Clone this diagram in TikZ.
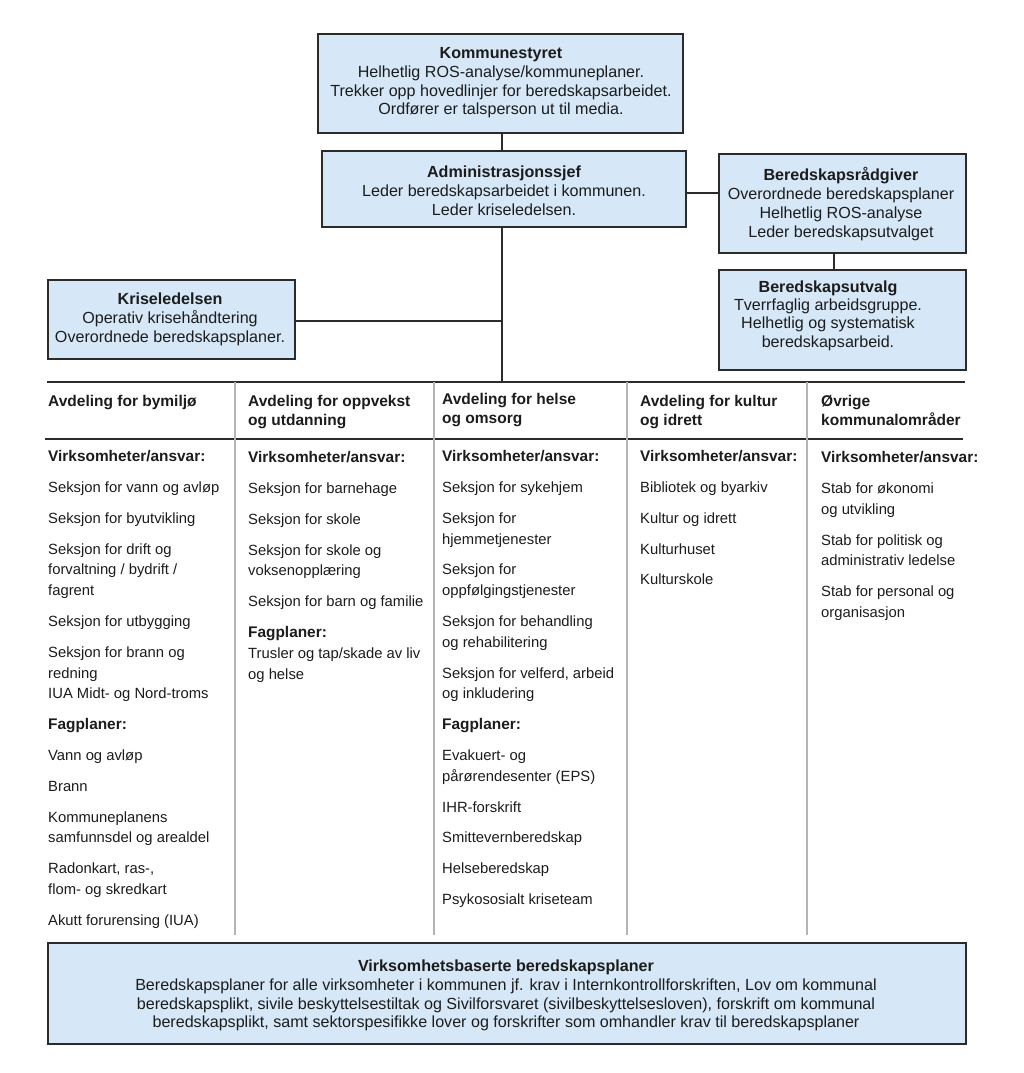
\documentclass[tikz,border=0pt]{standalone}
\usepackage{fontspec}
\setmainfont{Liberation Sans}
\definecolor{boxblue}{HTML}{D6E8F7}
\definecolor{linedark}{HTML}{2B2B2B}
\definecolor{sepgray}{HTML}{B4B4B4}
\definecolor{textdark}{HTML}{1C1C1C}
\begin{document}
\begin{tikzpicture}[x=1pt,y=-1pt,
  boxframe/.style={draw=linedark, line width=1.8pt, fill=boxblue, inner sep=0pt, rectangle},
  boxtext/.style={inner sep=0pt, align=center, text=textdark, font=\fontsize{16.1}{18.7}\selectfont},
  coltext/.style={inner sep=0pt, anchor=north west, align=left, text=textdark, font=\fontsize{14.8}{20.8}\selectfont},
  colhead/.style={font=\bfseries\fontsize{15.4}{20.8}\selectfont},
  headtext/.style={inner sep=0pt, anchor=north west, align=left, text=textdark, font=\bfseries\fontsize{15.5}{19}\selectfont},
  conn/.style={draw=linedark, line width=1.5pt},
  rulestyle/.style={draw=linedark, line width=1.8pt},
  sepstyle/.style={draw=sepgray, line width=1.3pt}
]
\useasboundingbox[fill=white] (0,0) rectangle (1024,1073);

% ---- boxes ----
\node[boxframe, minimum width=365pt, minimum height=99pt] (kom) at (500.5,83.5) {};
\node[boxtext] (komtxt) at (501,83) {\textbf{Kommunestyret}\\Helhetlig ROS-analyse/kommuneplaner.\\Trekker opp hovedlinjer for beredskapsarbeidet.\\Ordfører er talsperson ut til media.};

\node[boxframe, minimum width=364pt, minimum height=76pt] (adm) at (504,189) {};
\node[boxtext, font=\fontsize{16.1}{19}\selectfont] (admtxt) at (504,190.5) {\textbf{Administrasjonssjef}\\Leder beredskapsarbeidet i kommunen.\\Leder kriseledelsen.};

\node[boxframe, minimum width=247pt, minimum height=99pt] (rad) at (842.5,203.5) {};
\node[boxtext] (radtxt) at (841,204) {\textbf{Beredskapsrådgiver}\\Overordnede beredskapsplaner\\Helhetlig ROS-analyse\\Leder beredskapsutvalget};

\node[boxframe, minimum width=247pt, minimum height=100pt] (utv) at (842.5,320) {};
\node[boxtext, font=\fontsize{16.1}{18.3}\selectfont] (utvtxt) at (828,315.5) {\textbf{Beredskapsutvalg}\\Tverrfaglig arbeidsgruppe.\\Helhetlig og systematisk\\beredskapsarbeid.};

\node[boxframe, minimum width=247pt, minimum height=79pt] (kris) at (171.5,319.5) {};
\node[boxtext, font=\fontsize{16.1}{19}\selectfont] (kristxt) at (170,319.5) {\textbf{Kriseledelsen}\\Operativ krisehåndtering\\Overordnede beredskapsplaner.};

\node[boxframe, minimum width=918pt, minimum height=101pt] (bunn) at (507,993.5) {};
\node[boxtext] (bunntxt) at (506,995.5) {\textbf{Virksomhetsbaserte beredskapsplaner}\\Beredskapsplaner for alle virksomheter i kommunen jf. krav i Internkontrollforskriften, Lov om kommunal\\beredskapsplikt, sivile beskyttelsestiltak og Sivilforsvaret (sivilbeskyttelsesloven), forskrift om kommunal\\beredskapsplikt, samt sektorspesifikke lover og forskrifter som omhandler krav til beredskapsplaner};

% ---- helper coordinates ----
\coordinate (trunk) at (502,0);
\coordinate (radx) at (834,0);
\coordinate (hy) at (0,193);
\coordinate (ky) at (0,321);
\coordinate (tl) at (47,382);
\coordinate (tr) at (965,382);
\coordinate (hl) at (45,439);
\coordinate (hr) at (963,439);
\coordinate (sa1) at (235,382); \coordinate (sb1) at (235,935);
\coordinate (sa2) at (434,382); \coordinate (sb2) at (434,935);
\coordinate (sa3) at (627,382); \coordinate (sb3) at (627,935);
\coordinate (sa4) at (807,382); \coordinate (sb4) at (807,935);

% ---- connectors ----
\draw[conn] (kom.south -| trunk) -- (adm.north -| trunk);
\draw[conn] (adm.east |- hy) -- (rad.west |- hy);
\draw[conn] (rad.south -| radx) -- (utv.north -| radx);
\draw[conn] (adm.south -| trunk) -- (tl -| trunk);
\draw[conn] (kris.east |- ky) -- (trunk |- ky);

% ---- table rules ----
\draw[rulestyle] (tl) -- (tr);
\draw[rulestyle] (hl) -- (hr);
\draw[sepstyle] (sa1) -- (sb1);
\draw[sepstyle] (sa2) -- (sb2);
\draw[sepstyle] (sa3) -- (sb3);
\draw[sepstyle] (sa4) -- (sb4);

% ---- headers ----
\node[headtext] (h1) at (48,394.5) {\rule{0pt}{12pt}Avdeling for bymiljø};
\node[headtext] (h2) at (248,394.5) {\rule{0pt}{12pt}Avdeling for oppvekst\\og utdanning};
\node[headtext] (h3) at (442,392.5) {\rule{0pt}{12pt}Avdeling for helse\\og omsorg};
\node[headtext] (h4) at (640,394.5) {\rule{0pt}{12pt}Avdeling for kultur\\og idrett};
\node[headtext] (h5) at (821,394.5) {\rule{0pt}{12pt}Øvrige\\kommunalområder};

% ---- columns ----
\node[coltext] (c1) at (48,449.5) {\rule{0pt}{12pt}{\bfseries\fontsize{15.4}{20.8}\selectfont Virksomheter/ansvar:}\\[10pt]
Seksjon for vann og avløp\\[10pt]
Seksjon for byutvikling\\[10pt]
Seksjon for drift og\\forvaltning / bydrift /\\fagrent\\[10pt]
Seksjon for utbygging\\[10pt]
Seksjon for brann og\\redning\\IUA Midt- og Nord-troms\\[10pt]
{\bfseries\fontsize{15.4}{20.8}\selectfont Fagplaner:}\\[10pt]
Vann og avløp\\[10pt]
Brann\\[10pt]
Kommuneplanens\\samfunnsdel og arealdel\\[10pt]
Radonkart, ras-,\\flom- og skredkart\\[10pt]
Akutt forurensing (IUA)};

\node[coltext] (c2) at (248,450.5) {\rule{0pt}{12pt}{\bfseries\fontsize{15.4}{20.8}\selectfont Virksomheter/ansvar:}\\[10pt]
Seksjon for barnehage\\[10pt]
Seksjon for skole\\[10pt]
Seksjon for skole og\\voksenopplæring\\[10pt]
Seksjon for barn og familie\\[10pt]
{\bfseries\fontsize{15.4}{20.8}\selectfont Fagplaner:}\\
Trusler og tap/skade av liv\\og helse};

\node[coltext] (c3) at (442,449.5) {\rule{0pt}{12pt}{\bfseries\fontsize{15.4}{20.8}\selectfont Virksomheter/ansvar:}\\[10pt]
Seksjon for sykehjem\\[10pt]
Seksjon for\\hjemmetjenester\\[10pt]
Seksjon for\\oppfølgingstjenester\\[10pt]
Seksjon for behandling\\og rehabilitering\\[10pt]
Seksjon for velferd, arbeid\\og inkludering\\[10pt]
{\bfseries\fontsize{15.4}{20.8}\selectfont Fagplaner:}\\[10pt]
Evakuert- og\\pårørendesenter (EPS)\\[10pt]
IHR-forskrift\\[10pt]
Smittevernberedskap\\[10pt]
Helseberedskap\\[10pt]
Psykososialt kriseteam};

\node[coltext] (c4) at (640,449.5) {\rule{0pt}{12pt}{\bfseries\fontsize{15.4}{20.8}\selectfont Virksomheter/ansvar:}\\[10pt]
Bibliotek og byarkiv\\[10pt]
Kultur og idrett\\[10pt]
Kulturhuset\\[10pt]
Kulturskole};

\node[coltext] (c5) at (821,450.5) {\rule{0pt}{12pt}{\bfseries\fontsize{15.4}{20.8}\selectfont Virksomheter/ansvar:}\\[10pt]
Stab for økonomi\\og utvikling\\[10pt]
Stab for politisk og\\administrativ ledelse\\[10pt]
Stab for personal og\\organisasjon};
\end{tikzpicture}
\end{document}
